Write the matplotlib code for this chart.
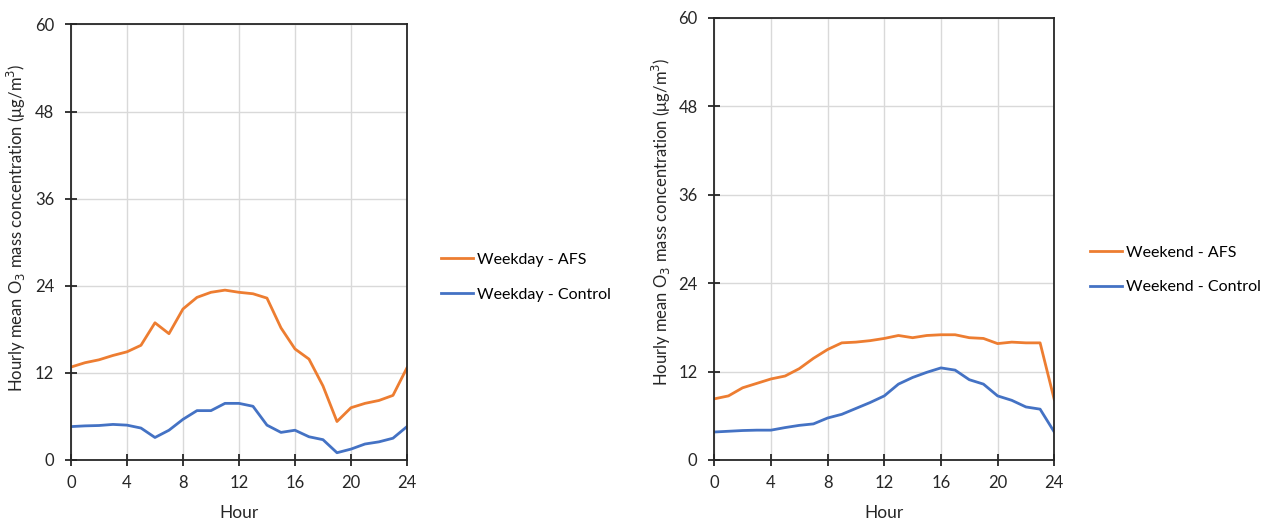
import numpy as np
import matplotlib
matplotlib.use("Agg")
import matplotlib.pyplot as plt

plt.rcParams['font.family'] = ['Lato', 'DejaVu Sans']

hours = np.arange(0, 25)

weekday_afs = [12.8, 13.4, 13.8, 14.4, 14.9, 15.8, 18.9, 17.4, 20.8, 22.4, 23.1, 23.4, 23.1,
               22.9, 22.3, 18.2, 15.3, 13.9, 10.2, 5.3, 7.2, 7.8, 8.2, 8.9, 12.7]
weekday_ctl = [4.6, 4.7, 4.75, 4.9, 4.8, 4.4, 3.1, 4.1, 5.6, 6.8, 6.8, 7.8, 7.8,
               7.4, 4.8, 3.8, 4.1, 3.2, 2.8, 1.0, 1.5, 2.2, 2.5, 3.0, 4.6]
weekend_afs = [8.3, 8.7, 9.8, 10.4, 11.0, 11.4, 12.4, 13.8, 15.0, 15.9, 16.0, 16.2, 16.5,
               16.9, 16.6, 16.9, 17.0, 17.0, 16.6, 16.5, 15.8, 16.0, 15.9, 15.9, 8.2]
weekend_ctl = [3.8, 3.9, 4.0, 4.05, 4.05, 4.4, 4.7, 4.9, 5.7, 6.2, 7.0, 7.8, 8.7,
               10.3, 11.2, 11.9, 12.5, 12.2, 10.9, 10.3, 8.7, 8.1, 7.2, 6.9, 3.8]

xticks = [0, 4, 8, 12, 16, 20, 24]
yticks = [0, 12, 24, 36, 48, 60]

orange = '#ED7D31'
blue = '#4472C4'

fig = plt.figure(figsize=(12.81, 5.21), dpi=100)
ax1 = fig.add_axes([0.0554, 0.1171, 0.2623, 0.836])
ax2 = fig.add_axes([0.5576, 0.1171, 0.2654, 0.8484])

# axes, series, legend x, label coords, legend y
panels = [
    (ax1, weekday_afs, weekday_ctl, 'Weekday - AFS', 'Weekday - Control', 1.059, (-0.128, 0.533), 0.42),
    (ax2, weekend_afs, weekend_ctl, 'Weekend - AFS', 'Weekend - Control', 1.064, (-0.12, 0.538), 0.43),
]

for ax, afs, ctl, lab1, lab2, lx, lc, ly in panels:
    ax.plot(hours, afs, color=orange, lw=2, label=lab1)
    ax.plot(hours, ctl, color=blue, lw=2, label=lab2)
    ax.set_xlim(0, 24)
    ax.set_ylim(0, 60)
    ax.set_xticks(xticks)
    ax.set_yticks(yticks)
    ax.grid(True, color='#d9d9d9', lw=1)
    ax.set_axisbelow(True)
    for s in ax.spines.values():
        s.set_color('#262626')
        s.set_linewidth(1.3)
    ax.tick_params(axis='both', direction='inout', length=8, width=1.3,
                   labelsize=12, colors='#262626', labelcolor='#262626')
    ax.tick_params(axis='x', pad=7)
    ax.tick_params(axis='y', pad=8)
    ax.set_xlabel('Hour', fontsize=12.5, color='#262626', labelpad=10)
    ax.set_ylabel('Hourly mean O$_3$ mass concentration (μg/m$^3$)', fontsize=12,
                  color='#262626')
    ax.yaxis.set_label_coords(*lc)
    ax.legend(loc='center left', bbox_to_anchor=(lx, ly), frameon=False,
              fontsize=11.5, handlelength=2.0, handletextpad=0.25, labelspacing=1.3)

fig.savefig('out.png', dpi=100)
